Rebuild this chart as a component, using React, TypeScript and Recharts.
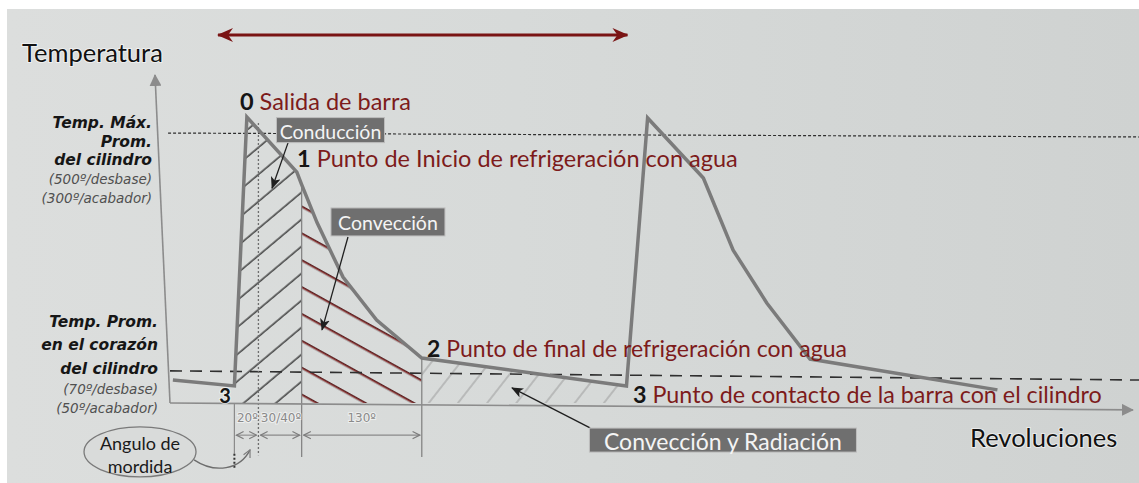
import React from 'react';
import { ComposedChart, Line, Area, XAxis, YAxis, ReferenceLine, ReferenceDot } from 'recharts';

// Profile vertices: position along the revolution (arbitrary units) and temperature index (0-100)
const revoluciones = [3, 67, 80, 132, 137, 153, 180, 215, 262, 475, 497, 555, 586, 621, 666, 861];
const temperatura = [7.0, 5.2, 87.2, 70.4, 66.6, 55.0, 38.4, 25.3, 13.7, 5.2, 86.9, 68.6, 46.6, 30.5, 13.4, 4.0];

const perfil = revoluciones.map((x, i) => ({ x, t: temperatura[i] }));
const conduccion = perfil.slice(1, 5);
const conveccion = perfil.slice(4, 9);
const conveccionRadiacion = perfil.slice(8, 10);

// reference levels (left end, right end)
const tempMaxCilindro = [82.3, 81.1];
const tempCorazon = [9.8, 7.0];
const ticksY = [9.8, 82.3];
const etiquetasY = [
  ['Temp. Prom.', 'en el corazón', 'del cilindro', '(70º/desbase)', '(50º/acabador)'],
  ['Temp. Máx.', 'Prom.', 'del cilindro', '(500º/desbase)', '(300º/acabador)'],
];
const limitesAngulo = [67, 92, 137, 262];
const etiquetasAngulo = ['20º', '30/40º', '130º'];

const FONT = 'Lato, "Open Sans", sans-serif';
const FONT_LEFT = '"DejaVu Sans", sans-serif';
const RED = '#7d1b1b';

const offsetsY = [[-49, -26, -2, 18, 37], [-10, 9, 27, 46, 65]];
const rightEdge = [-12, -18];

function YTick(props: any) {
  const { x, y, payload } = props;
  const idx = ticksY.indexOf(payload.value);
  if (idx < 0) return null;
  return (
    <g>
      {etiquetasY[idx].map((l, k) => (
        <text key={k} x={x + rightEdge[idx]} y={y + offsetsY[idx][k]} textAnchor="end" dominantBaseline="central"
          fontFamily={FONT_LEFT} fontStyle="italic" fontWeight={k < 3 ? 700 : 400} fontSize={k < 3 ? 15.5 : 13.5}
          fill={k < 3 ? '#161616' : '#505050'}>{l}</text>
      ))}
    </g>
  );
}

const seg = (stroke: string, width: number, dash?: string, mStart?: string, mEnd?: string, shrink = 0) => (p: any) => {
  const dx = p.x2 - p.x1, dy = p.y2 - p.y1;
  const len = Math.hypot(dx, dy) || 1;
  const ux = dx / len, uy = dy / len;
  return (
    <line x1={p.x1 + ux * shrink} y1={p.y1 + uy * shrink} x2={p.x2 - ux * shrink} y2={p.y2 - uy * shrink}
      stroke={stroke} strokeWidth={width} strokeDasharray={dash}
      markerStart={mStart ? `url(#${mStart})` : undefined} markerEnd={mEnd ? `url(#${mEnd})` : undefined} />
  );
};

const numLabel = (num: string, text: string, size: number) => (s: any) => (
  <text x={s.cx} y={s.cy} dominantBaseline="central" fontFamily={FONT} fontSize={size}>
    <tspan fill="#151515" fontWeight={700}>{num}</tspan>
    <tspan fill={RED}>{'\u00a0' + text}</tspan>
  </text>
);

const boxLabel = (text: string, w: number, h: number, size: number) => (s: any) => (
  <g>
    <rect x={s.cx - w / 2} y={s.cy - h / 2} width={w} height={h} fill="#6f6f6f" stroke="#bdbdbd" strokeWidth={1} />
    <text x={s.cx} y={s.cy + 1} textAnchor="middle" dominantBaseline="central" fontFamily={FONT} fontSize={size} fill="#f4f4f4">{text}</text>
  </g>
);

const plainText = (text: string, size: number, fill: string, anchor = 'start', weight = 400, family = FONT) => (s: any) => (
  <text x={s.cx} y={s.cy} textAnchor={anchor} dominantBaseline="central" fontFamily={family} fontSize={size} fill={fill}
    fontWeight={weight} stroke="#ffffff" strokeOpacity={0.55} strokeWidth={2} paintOrder="stroke">{text}</text>
);

const ellipseNote = (s: any) => (
  <g>
    <ellipse cx={s.cx} cy={s.cy} rx={56} ry={25} fill="#d9dbda" stroke="#7a7a7a" strokeWidth={1.3} />
    <text x={s.cx} y={s.cy - 9} textAnchor="middle" dominantBaseline="central" fontFamily={FONT} fontSize={18} fill="#1a1a1a">Angulo de</text>
    <text x={s.cx} y={s.cy + 14} textAnchor="middle" dominantBaseline="central" fontFamily={FONT} fontSize={18} fill="#1a1a1a">mordida</text>
    <path d={`M${s.cx + 54},${s.cy + 8} C${s.cx + 75},${s.cy + 22} ${s.cx + 100},${s.cy + 18} ${s.cx + 110},${s.cy - 2}`}
      fill="none" stroke="#6d6d6d" strokeWidth={1.3} markerEnd="url(#mOpen)" />
  </g>
);

export default function App() {
  return (
    <div style={{ position: 'absolute', left: 0, top: 0, width: 1139, height: 483, background: '#ffffff', overflow: 'hidden' }}>
      <div style={{ position: 'absolute', left: 7, top: 9, right: 0, bottom: 0,
        background: 'linear-gradient(90deg, #dcdedd 0%, #d7dad9 45%, #cfd2d1 100%)' }} />
      <div style={{ position: 'absolute', left: 0, top: 0 }}>
        <ComposedChart width={1139} height={483} margin={{ top: 75, right: 8, bottom: 80, left: 0 }}>
          <defs>
            <pattern id="hatchBlack" patternUnits="userSpaceOnUse" width="60" height="20.7" patternTransform="rotate(-40)">
              <line x1="0" y1="10" x2="60" y2="10" stroke="#1e1e1e" strokeWidth="1.3" />
            </pattern>
            <pattern id="hatchRed" patternUnits="userSpaceOnUse" width="60" height="23.5" patternTransform="rotate(29)">
              <line x1="0" y1="11" x2="60" y2="11" stroke="#3a1a1a" strokeWidth="2.2" />
              <line x1="0" y1="11" x2="60" y2="11" stroke="#b04545" strokeWidth="1" />
            </pattern>
            <pattern id="hatchLight" patternUnits="userSpaceOnUse" width="60" height="23" patternTransform="rotate(-52)">
              <line x1="0" y1="11" x2="60" y2="11" stroke="#9a9a9a" strokeWidth="1" />
            </pattern>
            <marker id="mGray" viewBox="0 0 12 12" refX="11" refY="6" markerWidth="12" markerHeight="12" markerUnits="userSpaceOnUse" orient="auto-start-reverse">
              <path d="M0,0 L12,6 L0,12 z" fill="#8c8c8c" />
            </marker>
            <marker id="mRed" viewBox="0 0 16 14" refX="15" refY="7" markerWidth="16" markerHeight="14" markerUnits="userSpaceOnUse" orient="auto-start-reverse">
              <path d="M0,0 L16,7 L0,14 L5,7 z" fill="#7a1414" />
            </marker>
            <marker id="mBlack" viewBox="0 0 12 10" refX="11" refY="5" markerWidth="12" markerHeight="10" markerUnits="userSpaceOnUse" orient="auto-start-reverse">
              <path d="M0,0 L12,5 L0,10 L3,5 z" fill="#1f1f1f" />
            </marker>
            <marker id="mOpen" viewBox="0 0 10 10" refX="9" refY="5" markerWidth="9" markerHeight="9" markerUnits="userSpaceOnUse" orient="auto-start-reverse">
              <path d="M1,1 L9,5 L1,9" fill="none" stroke="#7d7d7d" strokeWidth="1.3" />
            </marker>
          </defs>

          <XAxis type="number" dataKey="x" domain={[0, 1000]} hide allowDataOverflow />
          <YAxis type="number" domain={[0, 100]} width={170} ticks={ticksY} tick={YTick} axisLine={false}
            tickLine={false} tickSize={0} tickMargin={0} interval={0} allowDataOverflow />

          <Area data={conduccion} dataKey="t" type="linear" fill="url(#hatchBlack)" fillOpacity={1} stroke="none" isAnimationActive={false} />
          <Area data={conveccion} dataKey="t" type="linear" fill="url(#hatchRed)" fillOpacity={1} stroke="none" isAnimationActive={false} />
          <Area data={conveccionRadiacion} dataKey="t" type="linear" fill="url(#hatchLight)" fillOpacity={1} stroke="none" isAnimationActive={false} />

          {/* reference levels */}
          <ReferenceLine segment={[{ x: -2, y: tempMaxCilindro[0] }, { x: 1010, y: tempMaxCilindro[1] }]} ifOverflow="visible"
            shape={seg('#2e2e2e', 1.2, '3 2')} />
          <ReferenceLine segment={[{ x: 0, y: tempCorazon[0] }, { x: 1010, y: tempCorazon[1] }]} ifOverflow="visible"
            shape={seg('#2f2f2f', 1.6, '12 8')} />

          {/* angle guides */}
          <ReferenceLine segment={[{ x: limitesAngulo[0], y: 0 }, { x: limitesAngulo[0], y: -15.5 }]} ifOverflow="visible" shape={seg('#8a8a8a', 1.2)} />
          <ReferenceLine segment={[{ x: limitesAngulo[0], y: -15.5 }, { x: limitesAngulo[0], y: -19.8 }]} ifOverflow="visible" shape={seg('#333', 2, '2 2')} />
          <ReferenceLine segment={[{ x: limitesAngulo[1], y: 85.4 }, { x: limitesAngulo[1], y: -15.9 }]} ifOverflow="visible" shape={seg('#6e6e6e', 1.3, '2 2')} />
          <ReferenceLine segment={[{ x: limitesAngulo[2], y: temperatura[4] }, { x: limitesAngulo[2], y: -16.5 }]} ifOverflow="visible" shape={seg('#858585', 1.3)} />
          <ReferenceLine segment={[{ x: limitesAngulo[3], y: temperatura[8] }, { x: limitesAngulo[3], y: -16.5 }]} ifOverflow="visible" shape={seg('#858585', 1.3)} />
          {etiquetasAngulo.map((lab, i) => (
            <ReferenceLine key={'a' + i} segment={[{ x: limitesAngulo[i], y: -9.8 }, { x: limitesAngulo[i + 1], y: -9.8 }]} ifOverflow="visible"
              shape={seg('#8a8a8a', 1.1, undefined, 'mOpen', 'mOpen', 2)} />
          ))}
          {etiquetasAngulo.map((lab, i) => (
            <ReferenceDot key={'t' + i} x={(limitesAngulo[i] + limitesAngulo[i + 1]) / 2 + (i === 2 ? 0 : 1)} y={-4.6} r={0} ifOverflow="visible"
              shape={plainText(lab, 12, '#8a8a8a', 'middle', 400, FONT_LEFT)} />
          ))}

          {/* axes */}
          <ReferenceLine segment={[{ x: 0, y: 0 }, { x: 1002, y: -2.1 }]} ifOverflow="visible" shape={seg('#8c8c8c', 1.6, undefined, undefined, 'mGray')} />
          <ReferenceLine segment={[{ x: 0, y: 0 }, { x: -15.6, y: 100 }]} ifOverflow="visible" shape={seg('#8c8c8c', 1.6, undefined, undefined, 'mGray')} />

          {/* top double arrow */}
          <ReferenceLine segment={[{ x: 50, y: 112.2 }, { x: 476, y: 112.2 }]} ifOverflow="visible" shape={seg('#7a1414', 3, undefined, 'mRed', 'mRed')} />

          <Line data={perfil} dataKey="t" type="linear" stroke="#7b7b7b" strokeWidth={3.5} dot={false} isAnimationActive={false} />

          {/* callout arrows */}
          <ReferenceLine segment={[{ x: 122.8, y: 79.3 }, { x: 106.2, y: 65.5 }]} ifOverflow="visible" shape={seg('#1f1f1f', 1.3, undefined, undefined, 'mBlack')} />
          <ReferenceLine segment={[{ x: 185.2, y: 50.6 }, { x: 158.2, y: 22.3 }]} ifOverflow="visible" shape={seg('#1f1f1f', 1.3, undefined, undefined, 'mBlack')} />
          <ReferenceLine segment={[{ x: 437.1, y: -7.6 }, { x: 355.9, y: 4.6 }]} ifOverflow="visible" shape={seg('#1f1f1f', 1.3, undefined, undefined, 'mBlack')} />

          {/* annotations */}
          <ReferenceDot x={-154} y={107} r={0} ifOverflow="visible" shape={plainText('Temperatura', 25.5, '#111')} />
          <ReferenceDot x={832.5} y={-10.4} r={0} ifOverflow="visible" shape={plainText('Revoluciones', 25.5, '#111')} />
          <ReferenceDot x={72.8} y={92} r={0} ifOverflow="visible" shape={numLabel('0', 'Salida de barra', 23.5)} />
          <ReferenceDot x={132.2} y={74.7} r={0} ifOverflow="visible" shape={numLabel('1', 'Punto de Inicio de refrigeración con agua', 23.5)} />
          <ReferenceDot x={267.4} y={16.8} r={0} ifOverflow="visible" shape={numLabel('2', 'Punto de final de refrigeración con agua', 23)} />
          <ReferenceDot x={481.8} y={2.7} r={0} ifOverflow="visible" shape={numLabel('3', 'Punto de contacto de la barra con el cilindro', 23.3)} />
          <ReferenceDot x={57.2} y={2.4} r={0} ifOverflow="visible" shape={plainText('3', 20, '#151515', 'middle', 700)} />
          <ReferenceDot x={167} y={83.2} r={0} ifOverflow="visible" shape={boxLabel('Conducción', 108, 25, 19.5)} />
          <ReferenceDot x={226.8} y={55.2} r={0} ifOverflow="visible" shape={boxLabel('Convección', 114, 28, 19.5)} />
          <ReferenceDot x={575.4} y={-11.3} r={0} ifOverflow="visible" shape={boxLabel('Convección y Radiación', 267, 24, 23)} />
          <ReferenceDot x={-31.2} y={-14.9} r={0} ifOverflow="visible" shape={ellipseNote} />
        </ComposedChart>
      </div>
    </div>
  );
}
